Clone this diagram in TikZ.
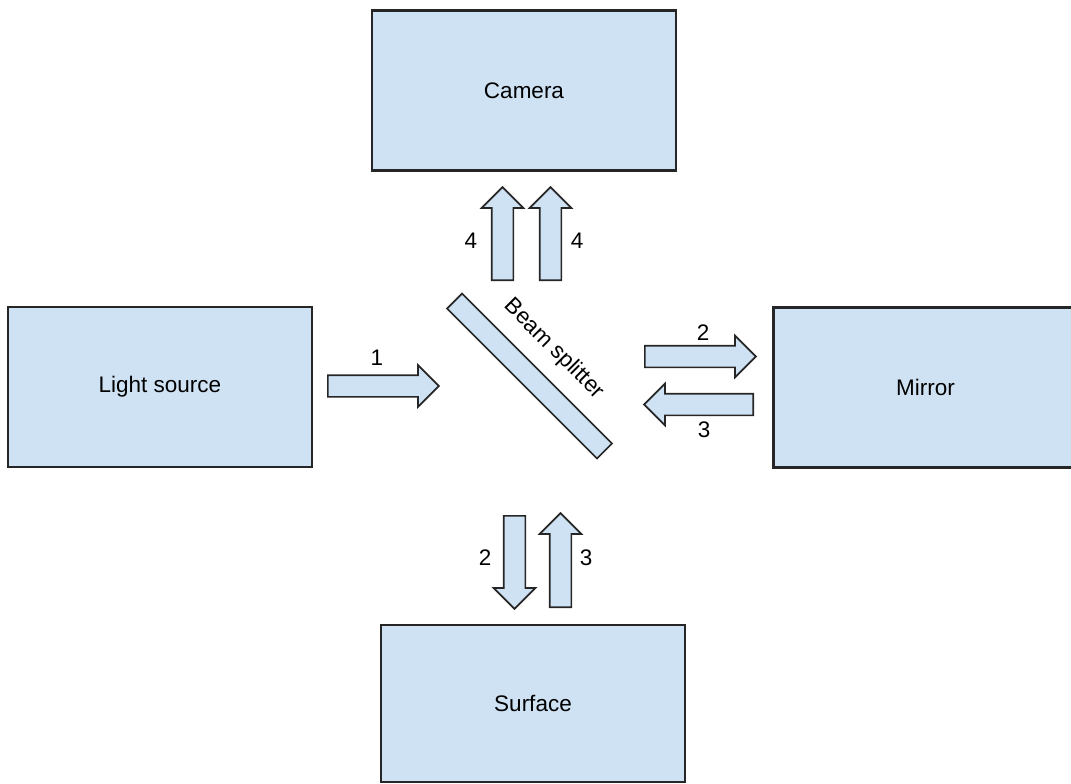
\documentclass[tikz,border=0pt]{standalone}
\usepackage{fontspec}
\setmainfont{Liberation Sans}
\usetikzlibrary{shapes.arrows}
\definecolor{boxblue}{HTML}{CFE2F3}

\begin{document}
\begin{tikzpicture}[x=0.025cm,y=-0.025cm,
    every node/.style={font=\fontsize{16}{19}\selectfont},
    device/.style={draw=black!85,line width=1.5pt,fill=boxblue,minimum width=7.6cm,minimum height=4cm},
    ray/.style={single arrow,draw=black!85,line width=1.2pt,fill=boxblue,inner sep=0.25cm,anchor=tail,
        single arrow head extend=0.25cm,single arrow tip angle=90,single arrow head indent=0pt}]
    \useasboundingbox (0,0) rectangle (1071,783);

    \node[device] (camera) at (524,90.5) {Camera};
    \node[device] (light) at (160,387) {Light source};
    \node[device] (mirror) at (925.5,387.5) {Mirror};
    \node[device,minimum height=3.925cm] (surface) at (533,703.5) {Surface};

    \node[draw=black!85,line width=1.2pt,fill=boxblue,minimum width=5.3cm,minimum height=0.53cm,
        inner sep=0pt,rotate=-45] (splitter) at (529.5,376) {};
    \node[rotate=-45] (splitlabel) at (554,349) {Beam splitter};

    \node[ray,minimum height=2.775cm] (r1) at (327,386) {};
    \node[ray,minimum height=2.775cm] (r2) at (644,356.5) {};
    \node[ray,minimum height=2.725cm,rotate=180] (r3) at (754,404.5) {};
    \node[ray,minimum height=2.325cm,rotate=90] (r4a) at (502.5,281) {};
    \node[ray,minimum height=2.325cm,rotate=90] (r4b) at (550.5,281) {};
    \node[ray,minimum height=2.325cm,rotate=-90] (r2s) at (514.5,515) {};
    \node[ray,minimum height=2.35cm,rotate=90] (r3s) at (560.5,608) {};

    \node (n1) at (377,358) {1};
    \node (n2) at (703,333) {2};
    \node (n3) at (704,430) {3};
    \node (n4a) at (471,241) {4};
    \node (n4b) at (577,241) {4};
    \node (n2s) at (485,558) {2};
    \node (n3s) at (586,558) {3};
\end{tikzpicture}
\end{document}
